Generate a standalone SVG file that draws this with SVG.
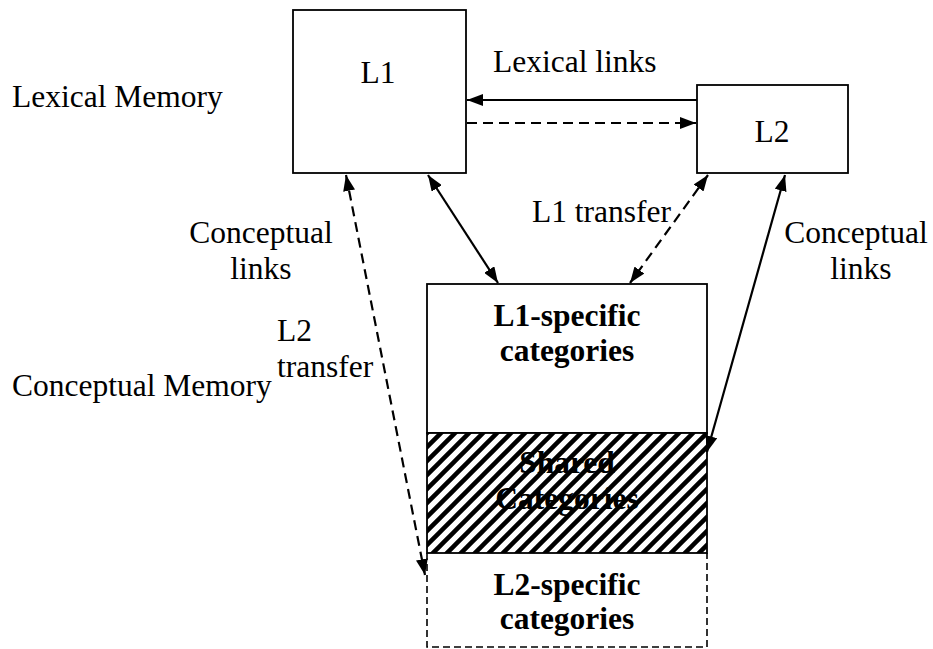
<svg xmlns="http://www.w3.org/2000/svg" width="933" height="649" viewBox="0 0 933 649">
<style>
text{font-family:"Liberation Serif","Times New Roman",serif;font-size:31.5px;fill:#000}
.b{font-weight:bold}
.box{fill:#fff;stroke:#000;stroke-width:1.8}
.ln{fill:none;stroke:#000;stroke-width:2.2}
.dl{fill:none;stroke:#000;stroke-width:2.2;stroke-dasharray:10 6}
.dbox{fill:none;stroke:#000;stroke-width:1.6;stroke-dasharray:7 4}
</style>
<defs>
<marker id="ah" markerUnits="userSpaceOnUse" markerWidth="16" markerHeight="12" refX="16" refY="6" orient="auto-start-reverse">
<path d="M0,0 L16,6 L0,12 z" fill="#000"/>
</marker>
<pattern id="hatch" patternUnits="userSpaceOnUse" width="14" height="14" x="427" y="433">
<rect width="14" height="14" fill="#fff"/>
<path d="M-2,2 L2,-2 M0,14 L14,0 M12,16 L16,12" stroke="#000" stroke-width="4.5"/>
</pattern>
</defs>

<text x="12" y="107">Lexical Memory</text>
<text x="12" y="396">Conceptual Memory</text>

<g id="L1">
<rect class="box" x="293" y="10" width="173" height="163"/>
<text x="378" y="83" text-anchor="middle">L1</text>
</g>
<g id="L2">
<rect class="box" x="697" y="85" width="151" height="88"/>
<text x="772" y="142" text-anchor="middle">L2</text>
</g>
<g id="L1-specific">
<rect class="box" x="427" y="284" width="280" height="149"/>
<text class="b" x="567" y="326" text-anchor="middle">L1-specific</text>
<text class="b" x="567" y="361" text-anchor="middle">categories</text>
</g>
<g id="shared">
<rect x="427" y="433" width="280" height="120" fill="url(#hatch)" stroke="#000" stroke-width="1.8"/>
<text class="b" x="567" y="473" text-anchor="middle">Shared</text>
<text class="b" x="567" y="509" text-anchor="middle">Categories</text>
</g>
<g id="L2-specific">
<path class="dbox" d="M427,553 L427,647 L707,647 L707,553"/>
<text class="b" x="567" y="595" text-anchor="middle">L2-specific</text>
<text class="b" x="567" y="629" text-anchor="middle">categories</text>
</g>

<g id="connectors">
<line class="ln" x1="697" y1="100" x2="467" y2="100" marker-end="url(#ah)"/>
<line class="dl" x1="467" y1="123" x2="696" y2="123" marker-end="url(#ah)"/>
<line class="ln" x1="428" y1="175" x2="498" y2="283" marker-start="url(#ah)" marker-end="url(#ah)"/>
<line class="dl" x1="708" y1="175" x2="630" y2="283" marker-start="url(#ah)" marker-end="url(#ah)"/>
<line class="dl" x1="346" y1="175" x2="425" y2="575" marker-start="url(#ah)" marker-end="url(#ah)"/>
<line class="ln" x1="785" y1="175" x2="707" y2="452" marker-start="url(#ah)" marker-end="url(#ah)"/>
</g>

<g id="labels">
<text x="493" y="72">Lexical links</text>
<text x="532" y="222">L1 transfer</text>
<text x="261" y="243" text-anchor="middle">Conceptual</text>
<text x="261" y="279" text-anchor="middle">links</text>
<text x="856" y="243" text-anchor="middle">Conceptual</text>
<text x="861" y="279" text-anchor="middle">links</text>
<text x="277" y="341">L2</text>
<text x="277" y="377">transfer</text>
</g>
</svg>
